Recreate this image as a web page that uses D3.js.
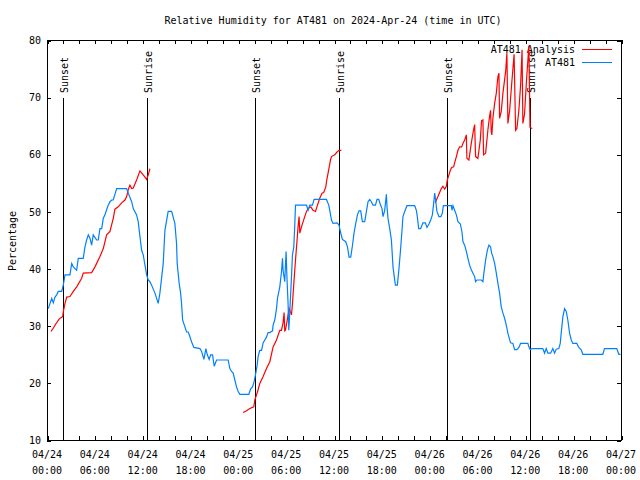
<!DOCTYPE html>
<html>
<head>
<meta charset="utf-8">
<script src="https://cdn.jsdelivr.net/npm/d3@7"></script>
<style>
  html, body { margin: 0; padding: 0; background: #fff; }
  svg { display: block; }
  text { font-family: "DejaVu Sans Mono", "Liberation Mono", monospace; font-size: 10px; fill: #000; }
</style>
</head>
<body>
<svg id="chart" width="640" height="480"></svg>
<script>
// ---------- data (hours since 2024-04-24 00:00 UTC, relative humidity %) ----------
const titleText = "Relative Humidity for AT481 on 2024-Apr-24 (time in UTC)";
const yLabel = "Percentage";
const yTicks = [10, 20, 30, 40, 50, 60, 70, 80];
const seriesNames = ["AT481 Analysis", "AT481"];
const seriesColors = ["#ff0000", "#0080ff"];

// observed AT481
const at481 = [
[0.16,33.0],[0.59,34.8],[0.79,34.0],[1.00,35.0],[1.22,35.4],[1.42,36.0],[1.84,36.0],[2.04,37.1],[2.26,38.9],[2.88,38.9],[3.10,40.9],[3.30,40.3],[3.51,40.0],[3.72,39.7],[3.92,41.8],[4.55,41.8],[4.76,43.8],[4.97,45.0],[5.18,45.9],[5.39,45.3],[5.60,44.1],[5.80,45.9],[6.23,45.0],[6.43,45.0],[6.64,47.0],[6.86,47.0],[7.06,48.8],[7.27,49.4],[7.48,50.3],[7.68,51.1],[7.90,51.7],[8.11,52.0],[8.31,52.0],[8.74,54.0],[9.99,54.0],[10.19,53.2],[10.62,51.7],[10.82,50.5],[11.24,49.4],[11.44,48.2],[11.66,45.6],[11.87,43.2],[12.07,42.4],[12.50,38.9],[12.70,38.0],[12.91,37.7],[13.12,37.1],[13.54,35.7],[13.95,33.9],[14.16,35.7],[14.58,40.9],[14.79,46.7],[15.20,50.0],[15.63,50.0],[16.04,47.9],[16.25,44.4],[16.33,40.9],[16.58,37.4],[16.76,35.7],[16.88,33.9],[17.01,31.0],[17.30,29.8],[17.51,28.9],[17.71,28.9],[17.92,28.1],[18.13,27.2],[18.42,26.2],[19.18,26.0],[19.39,25.5],[19.68,24.1],[19.93,26.0],[20.09,25.0],[20.34,24.1],[20.52,24.9],[20.77,24.9],[20.97,22.9],[21.27,24.0],[22.72,24.0],[22.94,22.5],[23.15,22.0],[23.35,21.7],[23.56,20.5],[23.77,19.3],[23.98,18.5],[24.19,18.0],[25.32,18.0],[25.53,18.9],[25.78,19.3],[25.98,20.2],[26.19,21.7],[26.36,23.1],[26.48,24.6],[26.69,25.7],[26.91,25.7],[27.11,27.0],[27.32,27.5],[27.53,28.0],[27.73,28.8],[27.95,28.8],[28.29,29.1],[28.36,30.1],[28.57,31.0],[28.79,33.0],[28.91,34.8],[29.20,36.8],[29.41,39.4],[29.54,41.8],[29.61,39.7],[29.82,37.7],[29.99,43.0],[30.11,38.0],[30.24,33.9],[30.33,29.2],[30.45,32.2],[30.67,38.6],[30.79,42.4],[30.96,43.8],[31.08,47.6],[31.17,51.1],[32.55,51.1],[32.75,50.2],[32.96,51.1],[33.30,51.1],[33.50,52.1],[35.05,52.1],[35.34,51.1],[35.47,50.2],[35.68,48.5],[35.88,47.9],[36.38,48.0],[36.63,47.6],[36.81,46.4],[37.06,45.1],[37.47,44.7],[37.69,43.8],[37.89,42.0],[38.10,42.0],[38.31,44.0],[38.51,46.2],[38.73,47.9],[38.94,49.4],[39.14,50.1],[39.35,50.1],[39.56,48.2],[39.85,48.2],[40.07,50.0],[40.27,51.7],[40.48,52.1],[40.69,51.7],[40.89,51.1],[41.20,51.1],[41.40,52.1],[41.61,52.1],[41.82,51.2],[42.02,50.5],[42.15,49.1],[42.36,50.2],[42.57,53.0],[42.65,50.8],[42.77,48.8],[42.99,47.0],[43.20,45.0],[43.40,40.3],[43.70,37.1],[43.95,37.1],[44.15,40.0],[44.33,43.0],[44.53,46.7],[44.65,49.1],[44.87,50.0],[45.15,51.0],[46.12,51.0],[46.33,50.2],[46.45,49.1],[46.62,47.0],[46.87,47.0],[47.16,48.0],[47.46,48.0],[47.66,47.2],[47.91,47.8],[48.13,48.5],[48.34,49.4],[48.50,51.4],[48.63,53.2],[48.75,52.0],[48.91,50.0],[49.16,49.1],[49.41,49.1],[49.59,49.7],[49.72,51.0],[50.72,51.0],[50.80,50.2],[50.92,51.0],[51.13,50.2],[51.35,49.4],[51.55,48.2],[51.85,47.8],[52.05,46.4],[52.18,44.7],[52.39,44.1],[52.60,43.0],[52.80,41.8],[53.01,40.6],[53.22,39.8],[53.43,39.2],[53.64,38.6],[53.76,37.7],[53.93,38.0],[54.48,38.0],[54.68,37.7],[54.80,39.2],[55.02,41.5],[55.23,43.2],[55.43,44.1],[55.64,43.8],[55.77,42.7],[55.93,42.1],[56.15,40.9],[56.36,39.2],[56.56,37.4],[56.77,35.7],[56.98,33.3],[57.19,32.2],[57.40,31.3],[57.61,30.1],[57.81,28.7],[58.02,27.6],[58.15,27.0],[58.44,26.9],[58.65,25.8],[58.94,25.8],[59.19,26.2],[59.40,26.9],[60.32,26.9],[60.44,26.3],[60.62,25.8],[60.87,26.0],[62.20,26.0],[62.41,25.2],[62.62,26.0],[62.83,25.2],[63.17,25.2],[63.45,26.0],[63.67,25.2],[63.88,25.9],[64.20,26.0],[64.38,26.9],[64.50,28.7],[64.71,31.6],[64.92,33.0],[65.13,32.5],[65.33,31.0],[65.55,28.7],[65.76,27.5],[65.96,26.9],[66.46,26.9],[66.71,26.2],[67.01,25.8],[67.21,25.0],[69.72,25.0],[69.93,26.0],[71.47,26.0],[71.72,25.0],[71.94,25.0]
];

// analysis AT481 (three daytime segments)
const analysisDay1 = [
[0.50,29.0],[0.80,29.6],[1.10,30.3],[1.54,31.2],[1.97,31.6],[2.04,32.4],[2.26,33.9],[2.47,35.0],[2.88,35.1],[3.30,36.0],[3.72,36.8],[4.35,38.3],[4.55,39.2],[5.60,39.3],[6.02,40.3],[6.64,42.1],[7.06,43.5],[7.48,45.9],[7.90,46.5],[8.31,48.8],[8.52,50.4],[8.94,50.8],[9.36,51.5],[9.78,52.0],[9.99,52.6],[10.19,53.8],[10.40,54.6],[10.62,54.0],[10.82,54.1],[11.24,55.5],[11.66,57.1],[12.07,56.4],[12.50,55.6],[12.70,56.4],[12.91,57.5]
];
const analysisDay2 = [
[24.60,14.8],[25.03,15.1],[25.44,15.5],[25.94,15.8],[26.07,17.0],[26.28,17.9],[26.48,18.8],[26.69,19.9],[27.11,21.1],[27.53,22.5],[27.95,23.7],[28.36,26.3],[28.79,27.5],[29.20,29.2],[29.41,29.2],[29.61,30.5],[29.74,32.3],[29.82,29.1],[29.91,29.2],[30.08,30.5],[30.37,33.0],[30.67,31.9],[30.79,33.9],[30.99,38.0],[31.17,41.5],[31.37,45.0],[31.49,47.3],[31.62,49.1],[31.71,46.2],[31.92,47.3],[32.33,49.1],[32.55,50.0],[32.75,50.5],[33.09,50.8],[33.37,50.2],[33.68,50.0],[33.93,51.1],[34.21,52.3],[34.50,53.2],[34.71,53.3],[34.97,54.3],[35.13,55.8],[35.30,57.0],[35.56,59.0],[35.68,59.6],[36.09,59.9],[36.38,60.4],[36.63,60.7],[36.93,60.7]
];
const analysisDay3 = [
[48.70,51.5],[48.84,52.0],[49.04,52.6],[49.25,53.3],[49.46,54.0],[49.66,54.4],[49.88,53.9],[50.09,54.4],[50.21,55.5],[50.42,56.4],[50.59,57.2],[50.76,57.7],[51.01,57.8],[51.13,58.5],[51.35,59.6],[51.55,60.7],[51.76,61.3],[52.01,61.3],[52.17,61.9],[52.39,62.5],[52.60,63.4],[52.67,59.3],[52.92,59.0],[53.22,61.9],[53.43,63.7],[53.64,65.2],[53.76,59.6],[54.05,59.3],[54.35,62.5],[54.51,65.9],[54.68,66.0],[54.76,59.9],[55.02,60.2],[55.30,64.2],[55.51,66.6],[55.64,67.7],[55.72,64.0],[55.80,63.4],[55.93,66.3],[56.15,68.9],[56.36,70.7],[56.56,73.6],[56.69,74.2],[56.77,66.3],[56.98,67.5],[57.19,70.7],[57.53,74.5],[57.69,77.7],[57.81,65.4],[58.02,67.5],[58.27,72.0],[58.59,77.5],[58.78,64.2],[58.94,64.5],[59.19,67.7],[59.40,72.0],[59.59,78.3],[59.69,65.4],[59.90,67.0],[60.15,73.0],[60.44,79.0],[60.59,64.7],[60.87,64.5]
];

// sunrise / sunset markers (hours since start)
const sunEvents = [
  {label: "Sunset",  hour: 2.05},
  {label: "Sunrise", hour: 12.57},
  {label: "Sunset",  hour: 26.07},
  {label: "Sunrise", hour: 36.59},
  {label: "Sunset",  hour: 50.13},
  {label: "Sunrise", hour: 60.60}
];

// ---------- drawing ----------
(function () {
const start = Date.UTC(2024, 3, 24, 0, 0);
const end = Date.UTC(2024, 3, 27, 0, 0);
const toDate = h => new Date(start + h * 3600e3);

const pL = 47, pR = 621, pT = 40, pB = 440;
const svg = d3.select("#chart");

const x = d3.scaleUtc().domain([new Date(start), new Date(end)]).range([pL, pR]);
const y = d3.scaleLinear().domain([10, 80]).range([pB, pT]);

// title
svg.append("text").attr("x", 333).attr("y", 20).attr("text-anchor", "middle")
  .attr("dy", "0.35em").text(titleText);

// y label
svg.append("text").attr("transform", `translate(12,241) rotate(-90)`)
  .attr("text-anchor", "middle").attr("dy", "0.35em").text(yLabel);

// x axis (ticks every 2h, labels every 6h)
const xTickVals = d3.utcHour.every(2).range(new Date(start), new Date(end + 1));
const fmtDate = d3.utcFormat("%m/%d"), fmtTime = d3.utcFormat("%H:%M");
const xAxis = d3.axisBottom(x).tickValues(xTickVals).tickSizeInner(-4).tickSizeOuter(0).tickFormat("");
const gx = svg.append("g").attr("transform", `translate(0.5,${pB})`).call(xAxis);
const xTop = d3.axisTop(x).tickValues(xTickVals).tickSizeInner(-4).tickSizeOuter(0).tickFormat("");
const gxt = svg.append("g").attr("transform", `translate(0.5,${pT})`).call(xTop);
[gx, gxt].forEach(g => { g.select(".domain").remove(); g.selectAll("line").attr("stroke", "#000").attr("shape-rendering", "crispEdges"); });

const labelVals = d3.utcHour.every(6).range(new Date(start), new Date(end + 1));
const xl = svg.append("g");
labelVals.forEach(d => {
  const t = xl.append("text").attr("text-anchor", "middle").attr("x", x(d));
  t.append("tspan").attr("x", x(d)).attr("y", 458).text(fmtDate(d));
  t.append("tspan").attr("x", x(d)).attr("y", 474).text(fmtTime(d));
});

// y axis (left + mirrored right)
const yAxis = d3.axisLeft(y).tickValues(yTicks).tickSizeInner(-4).tickSizeOuter(0).tickPadding(6);
const gy = svg.append("g").attr("transform", `translate(${pL},0.5)`).call(yAxis);
gy.attr("font-family", null).attr("font-size", null);
gy.select(".domain").remove();
const yRight = d3.axisRight(y).tickValues(yTicks).tickSizeInner(-4).tickSizeOuter(0).tickFormat("");
const gyr = svg.append("g").attr("transform", `translate(${pR},0.5)`).call(yRight);
gyr.select(".domain").remove();
[gy, gyr].forEach(g => g.selectAll("line").attr("stroke", "#000").attr("shape-rendering", "crispEdges"));

// border
svg.append("rect").attr("x", pL + 0.5).attr("y", pT + 0.5)
  .attr("width", pR - pL).attr("height", pB - pT)
  .attr("fill", "none").attr("stroke", "#000").attr("shape-rendering", "crispEdges");

// sunrise / sunset lines
const sun = svg.append("g");
sunEvents.forEach(e => {
  const xp = Math.round(x(toDate(e.hour))) + 0.5;
  sun.append("line").attr("x1", xp).attr("x2", xp).attr("y1", 98).attr("y2", pB)
    .attr("stroke", "#000").attr("shape-rendering", "crispEdges");
  sun.append("text").attr("transform", `translate(${xp + 1},93) rotate(-90)`)
    .attr("dy", "0.35em").text(e.label);
});

// legend
const leg = svg.append("g");
seriesNames.forEach((n, i) => {
  const yy = 49 + i * 13;
  leg.append("text").attr("x", 575).attr("y", yy).attr("dy", "0.35em").attr("text-anchor", "end").text(n);
  leg.append("line").attr("x1", 582).attr("x2", 612).attr("y1", yy + 0.5).attr("y2", yy + 0.5)
    .attr("stroke", seriesColors[i]).attr("shape-rendering", "crispEdges");
});

// data
svg.append("clipPath").attr("id", "plotclip").append("rect")
  .attr("x", pL).attr("y", pT).attr("width", pR - pL + 1).attr("height", pB - pT + 1);
const line = d3.line().x(d => x(toDate(d[0]))).y(d => y(d[1]));
const dataG = svg.append("g").attr("clip-path", "url(#plotclip)");
[analysisDay1, analysisDay2, analysisDay3].forEach(seg => {
  dataG.append("path").datum(seg).attr("d", line).attr("fill", "none")
    .attr("stroke", seriesColors[0]).attr("stroke-width", 1.2);
});
dataG.append("path").datum(at481).attr("d", line).attr("fill", "none")
  .attr("stroke", seriesColors[1]).attr("stroke-width", 1.2);
})();
</script>
</body>
</html>
